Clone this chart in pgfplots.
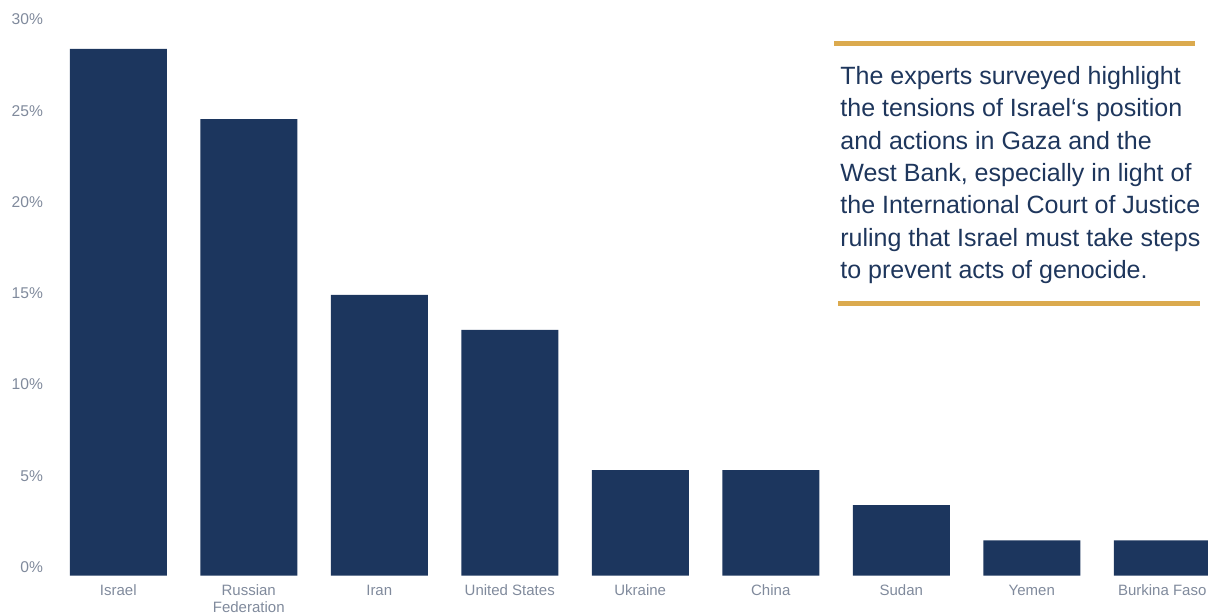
\documentclass[border=0pt]{standalone}
\usepackage{fontspec}
\setmainfont{Liberation Sans}
\usepackage{pgfplots}
\pgfplotsset{compat=1.18}
\definecolor{navy}{RGB}{28,54,94}
\definecolor{gold}{RGB}{219,170,78}
\definecolor{ticklab}{RGB}{128,138,156}
\definecolor{txt}{RGB}{30,54,92}
\begin{document}
\begin{tikzpicture}
\useasboundingbox (0,0) rectangle (604pt,307.5pt);
\begin{axis}[
 at={(26.5pt,19.75pt)}, anchor=south west,
 scale only axis, width=587.25pt, height=273.75pt,
 xmin=-0.5, xmax=8.5, ymin=0, ymax=30,
 ybar, bar width=48.5pt,
 axis line style={draw=none}, major tick length=0pt,
 xtick={0,...,8},
 xticklabels={Israel,{Russian\\Federation},Iran,United States,Ukraine,China,Sudan,Yemen,Burkina Faso},
 xticklabel style={align=center, font=\fontsize{7.5}{8.5}\selectfont, text=ticklab, yshift=-0.5pt},
 typeset ticklabels with strut,
 ytick={0,5,...,30},
 yticklabels={0\%,5\%,10\%,15\%,20\%,25\%,30\%},
 yticklabel style={font=\fontsize{7.8}{9}\selectfont, text=ticklab, yshift=3.3pt, xshift=-1.5pt},
 clip=false,
]
\addplot[fill=navy, draw=none] coordinates {(0,28.85) (1,25.0) (2,15.38) (3,13.46) (4,5.77) (5,5.77) (6,3.85) (7,1.92) (8,1.92)};
\end{axis}
\draw[gold, line width=2.5pt] (417pt,285.5pt) -- (597.5pt,285.5pt);
\draw[gold, line width=2.5pt] (419pt,155.5pt) -- (600pt,155.5pt);
\begin{scope}[every node/.style={anchor=base west, inner sep=0pt, text=txt, font=\fontsize{12.5}{15}\selectfont}]
\node at (420pt,265.3pt) {The experts surveyed highlight};
\node at (420pt,249.1pt) {the tensions of Israel‘s position};
\node at (420pt,232.9pt) {and actions in Gaza and the};
\node at (420pt,216.7pt) {West Bank, especially in light of};
\node at (420pt,200.5pt) {the International Court of Justice};
\node at (420pt,184.3pt) {ruling that Israel must take steps};
\node at (420pt,168.1pt) {to prevent acts of genocide.};
\end{scope}
\end{tikzpicture}
\end{document}
